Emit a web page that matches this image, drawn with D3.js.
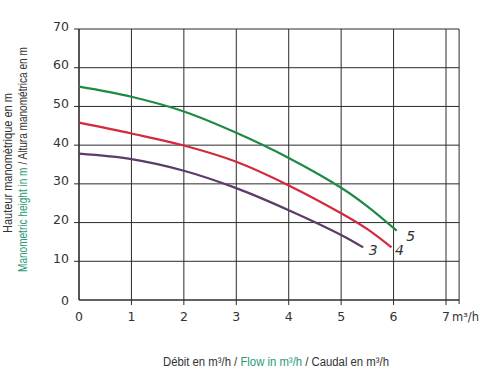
<!DOCTYPE html>
<html><head><meta charset="utf-8">
<script src="https://cdn.jsdelivr.net/npm/d3@7"></script>
<style>body{margin:0;background:#fff}svg{display:block}</style>
</head><body>
<script>
const xTicks = [0,1,2,3,4,5,6,7];
const yTicks = [0,10,20,30,40,50,60,70];
const curve3 = [[0,37.8],[1,36.4],[2,33.4],[3,28.9],[4,23.2],[5,16.8],[5.42,13.6]];
const curve4 = [[0,45.8],[1,43.0],[2,39.9],[3,35.7],[4,29.6],[5,22.4],[5.5,18.3],[5.96,13.6]];
const curve5 = [[0,55.1],[1,52.5],[2,48.7],[3,43.2],[4,36.7],[5,29.0],[5.5,24.2],[6.06,17.9]];
const seriesNames = ["3","4","5"];
const xTitle = [["Débit en m³/h / ","#333"],["Flow in m³/h","#2a9a78"],[" / Caudal en m³/h","#333"]];
const yTitle2 = [["Manometric height in m","#2a9a78"],[" / Altura manométrica en m","#333"]];

const W=486,H=381;
const svg=d3.select("body").append("svg").attr("width",W).attr("height",H);
const x=d3.scaleLinear().domain([0,7]).range([79,446]);
const y=d3.scaleLinear().domain([0,70]).range([300,29]);
const xMax=7.25;
const grid="#2b2b2b";
const g=svg.append("g");
// grid
g.selectAll(".vg").data(xTicks.filter(d=>d>0)).enter().append("line")
 .attr("x1",d=>x(d)).attr("x2",d=>x(d)).attr("y1",y(70)).attr("y2",y(0)+5)
 .attr("stroke",grid).attr("stroke-width",1);
g.selectAll(".hg").data(yTicks.filter(d=>d>0)).enter().append("line")
 .attr("x1",x(0)-5).attr("x2",x(xMax)).attr("y1",d=>y(d)).attr("y2",d=>y(d))
 .attr("stroke",grid).attr("stroke-width",1);
g.append("line").attr("x1",x(xMax)).attr("x2",x(xMax)).attr("y1",y(70)).attr("y2",y(0)+4).attr("stroke",grid);
g.append("line").attr("x1",x(0)).attr("x2",x(0)).attr("y1",y(70)).attr("y2",y(0)).attr("stroke",grid).attr("stroke-width",1.6);
g.append("line").attr("x1",x(0)).attr("x2",x(xMax)).attr("y1",y(0)).attr("y2",y(0)).attr("stroke",grid).attr("stroke-width",1.6);
// tick labels
const tf="'DejaVu Sans', sans-serif";
g.selectAll(".yl").data(yTicks).enter().append("text")
 .attr("x",x(0)-10).attr("y",d=>y(d)+(d===0?5:1.5)).attr("text-anchor","end")
 .attr("font-family",tf).attr("font-size",12.5).attr("fill","#333").text(d=>d);
g.selectAll(".xl").data(xTicks).enter().append("text")
 .attr("x",d=>x(d)).attr("y",y(0)+21).attr("text-anchor","middle")
 .attr("font-family",tf).attr("font-size",12.5).attr("fill","#333").text(d=>d);
svg.append("text").attr("x",x(7)+6).attr("y",y(0)+21).attr("font-family",tf).attr("font-size",11.5).attr("fill","#333")
 .text("m³/h");
// curves
const line=d3.line().x(d=>x(d[0])).y(d=>y(d[1])).curve(d3.curveCatmullRom.alpha(0.5));
const data=[curve3,curve4,curve5];
const colors=["#5a3c66","#d4283c","#1e8a46"];
data.forEach((c,i)=>{
 svg.append("path").attr("d",line(c)).attr("fill","none").attr("stroke",colors[i]).attr("stroke-width",2.2);
});
const labelOff=[[10,4],[8,4],[14,6]];
data.forEach((c,i)=>{
 const p=c[c.length-1];
 svg.append("text").attr("x",x(p[0])+labelOff[i][0]).attr("y",y(p[1])+labelOff[i][1])
  .attr("text-anchor","middle")
  .attr("font-family",tf).attr("font-style","italic").attr("font-size",14).attr("fill","#333")
  .attr("dominant-baseline","middle").text(seriesNames[i]);
});
// condensed multi-colour titles: pieces laid out in a group, then squeezed horizontally
const nf="'Liberation Sans',sans-serif";
function condensed(parent, parts, size, targetLen){
 const grp=parent.append("g");
 let cx=0;
 parts.forEach(([t,c])=>{
  const el=grp.append("text").attr("x",cx).attr("y",0).attr("font-family",nf).attr("font-size",size)
   .attr("fill",c).style("white-space","pre").attr("xml:space","preserve").text(t);
  cx+=el.node().getComputedTextLength();
 });
 grp.attr("transform",`scale(${targetLen/cx},1)`);
 return grp;
}
const xg=svg.append("g").attr("transform","translate(163,366)");
condensed(xg,xTitle,13.5,226);
const y1g=svg.append("g").attr("transform","translate(12,233) rotate(-90)");
condensed(y1g,[["Hauteur manomètrique en m","#333"]],13,140);
const y2g=svg.append("g").attr("transform","translate(27,272) rotate(-90)");
condensed(y2g,yTitle2,13,225);
</script>
</body></html>
